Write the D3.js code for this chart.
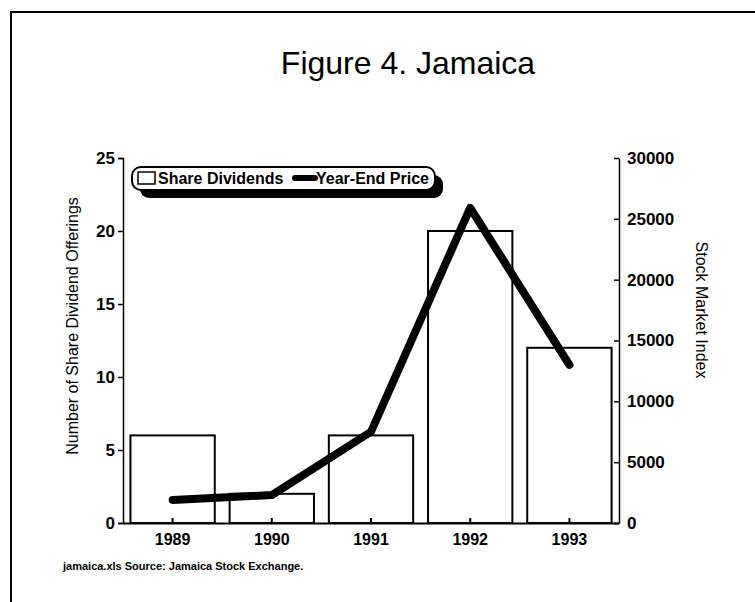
<!DOCTYPE html>
<html>
<head>
<meta charset="utf-8">
<script src="https://cdn.jsdelivr.net/npm/d3@7"></script>
<style>
  body { margin: 0; background: #fff; }
  svg { display: block; font-family: 'Liberation Sans', Arial, Helvetica, sans-serif; }
</style>
</head>
<body>
<div class="chart"></div>
<script>
'use strict'
const years = ['1989', '1990', '1991', '1992', '1993']
const dividends = [6, 2, 6, 20, 12]
const prices = [1900, 2300, 7500, 25900, 13000]
const leftTicks = [0, 5, 10, 15, 20, 25]
const rightTicks = [0, 5000, 10000, 15000, 20000, 25000, 30000]

const width = 755
const height = 602
const margin = { top: 158, right: 136, bottom: 79, left: 123 }
const innerW = width - margin.left - margin.right
const innerH = height - margin.top - margin.bottom

const svg = d3.select('.chart').append('svg')
  .attr('width', width)
  .attr('height', height)

// page frame (only top and left edges show)
svg.append('path')
  .attr('d', 'M11,602 L11,12 L755,12')
  .attr('fill', 'none')
  .attr('stroke', '#000')
  .attr('stroke-width', 2)

svg.append('text')
  .attr('x', 408)
  .attr('y', 74)
  .attr('text-anchor', 'middle')
  .attr('font-size', 32)
  .text('Figure 4. Jamaica')

const g = svg.append('g').attr('transform', 'translate(' + margin.left + ',' + margin.top + ')')

const x = d3.scaleBand().domain(years).range([0, innerW]).paddingInner(0.15).paddingOuter(0.075)
const y = d3.scaleLinear().domain([0, 25]).range([innerH, 0])
const y2 = d3.scaleLinear().domain([0, 30000]).range([innerH, 0])

// bars
g.selectAll('.bar')
  .data(dividends)
  .enter().append('rect')
  .attr('class', 'bar')
  .attr('x', function (d, i) { return x(years[i]) })
  .attr('y', function (d) { return y(d) })
  .attr('width', x.bandwidth())
  .attr('height', function (d) { return innerH - y(d) })
  .attr('fill', '#fff')
  .attr('stroke', '#000')
  .attr('stroke-width', 2)

// left axis
const yAxis = g.append('g')
  .call(d3.axisLeft(y).tickValues(leftTicks).tickSize(5).tickPadding(3))
yAxis.selectAll('text').attr('font-size', 17).attr('font-weight', 'bold').attr('fill', '#000')
yAxis.selectAll('line, path').attr('stroke', '#000').attr('stroke-width', 1.5)

// right axis, ticks point inward
const y2Axis = g.append('g')
  .attr('transform', 'translate(' + innerW + ',0)')
  .call(d3.axisRight(y2).tickValues(rightTicks).tickFormat(d3.format('d'))
    .tickSizeInner(-5).tickSizeOuter(0).tickPadding(8))
y2Axis.selectAll('text').attr('font-size', 17).attr('font-weight', 'bold').attr('fill', '#000')
y2Axis.selectAll('line, path').attr('stroke', '#000').attr('stroke-width', 1.5)

// x axis, small ticks inward at band centres
const xAxis = g.append('g')
  .attr('transform', 'translate(0,' + innerH + ')')
  .call(d3.axisBottom(x).tickSizeInner(-5).tickSizeOuter(0).tickPadding(11))
xAxis.selectAll('text').attr('font-size', 16).attr('font-weight', 'bold').attr('fill', '#000')
xAxis.selectAll('line, path').attr('stroke', '#000').attr('stroke-width', 2)

// price line
const line = d3.line()
  .x(function (d, i) { return x(years[i]) + x.bandwidth() / 2 })
  .y(function (d) { return y2(d) })
g.append('path')
  .datum(prices)
  .attr('d', line)
  .attr('fill', 'none')
  .attr('stroke', '#000')
  .attr('stroke-width', 8)
  .attr('stroke-linecap', 'round')
  .attr('stroke-linejoin', 'round')

// axis titles
svg.append('text')
  .attr('transform', 'translate(78,326) rotate(-90)')
  .attr('text-anchor', 'middle')
  .attr('font-size', 16)
  .text('Number of Share Dividend Offerings')

svg.append('text')
  .attr('transform', 'translate(696,310) rotate(90)')
  .attr('text-anchor', 'middle')
  .attr('font-size', 16)
  .text('Stock Market Index')

// legend with drop shadow
const legend = svg.append('g').attr('transform', 'translate(132,167)')
legend.append('rect')
  .attr('x', 8).attr('y', 8).attr('width', 303).attr('height', 23)
  .attr('rx', 9).attr('fill', '#000')
legend.append('rect')
  .attr('x', 0).attr('y', 0).attr('width', 303).attr('height', 23)
  .attr('rx', 9).attr('fill', '#fff').attr('stroke', '#000').attr('stroke-width', 2)
legend.append('rect')
  .attr('x', 6).attr('y', 5).attr('width', 17).attr('height', 12)
  .attr('fill', '#fff').attr('stroke', '#000').attr('stroke-width', 1.5)
legend.append('text')
  .attr('x', 26).attr('y', 17)
  .attr('font-size', 16).attr('font-weight', 'bold')
  .text('Share Dividends')
legend.append('line')
  .attr('x1', 163).attr('x2', 183).attr('y1', 11).attr('y2', 11)
  .attr('stroke', '#000').attr('stroke-width', 6).attr('stroke-linecap', 'round')
legend.append('text')
  .attr('x', 184).attr('y', 17)
  .attr('font-size', 16).attr('font-weight', 'bold')
  .text('Year-End Price')

// footnote
svg.append('text')
  .attr('x', 63).attr('y', 570)
  .attr('font-size', 11).attr('font-weight', 'bold')
  .text('jamaica.xls Source: Jamaica Stock Exchange.')
</script>
</body>
</html>
